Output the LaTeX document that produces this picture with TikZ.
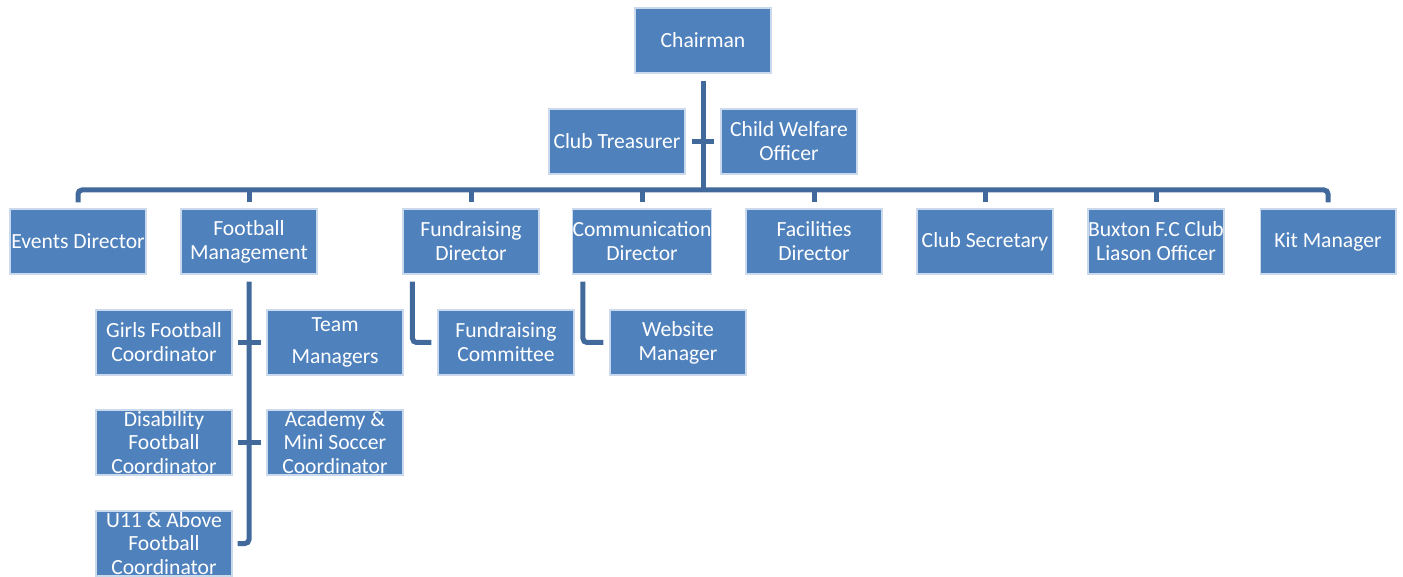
\documentclass[tikz,border=0pt]{standalone}
\usepackage{fontspec}
\setmainfont{Carlito}
\usetikzlibrary{positioning}
\definecolor{boxblue}{HTML}{4F81BD}
\definecolor{lineblue}{HTML}{41699C}
\tikzset {
    style box/.style={
        fill=boxblue,
        draw=white!70!boxblue,
        line width=0.6pt,
        text=white,
        rectangle, % plain square boxes
        minimum width=2.72cm,
        minimum height=1.3cm,
        inner sep=0pt,
        align=center,
    },
    style link/.style={
        draw=lineblue,
        line width=0.1cm,
        rounded corners=0.08cm,
    },
}

\begin{document}
\begin{tikzpicture}
[x=0.02cm, y=-0.02cm, font=\fontsize{12.3}{13.6}\selectfont]
\clip (0,0) rectangle (1403,577);
\useasboundingbox (0,0) rectangle (1403,577);

% top of the club
\node [style box] (chair) at (703,40.5) {Chairman};
\node [style box] (treasurer) at (617,141.5) {Club Treasurer};
\node [style box] (welfare) at (789,141.5) {Child Welfare\\Officer};
\coordinate (bus) at (703,190);

% directors row
\node [style box] (events) at (78,241.5) {Events Director};
\node [style box] (football) at (249,241.5) {Football\\Management};
\node [style box] (fundraising) at (471,241.5) {Fundraising\\Director};
\node [style box] (communication) at (642,241.5) {Communication\\Director};
\node [style box] (facilities) at (814,241.5) {Facilities\\Director};
\node [style box] (secretary) at (985,241.5) {Club Secretary};
\node [style box] (buxton) at (1156,241.5) {Buxton F.C Club\\Liason Officer};
\node [style box] (kit) at (1328,241.5) {Kit Manager};

% under football management
\node [style box] (girls) at (164,342.5) {Girls Football\\Coordinator};
\node [style box] (team) at (335,342.5) {Team\\[4.5pt]Managers};
\node [style box] (disability) at (164,442.5) {Disability\\Football\\Coordinator};
\node [style box] (academy) at (335,442.5) {Academy \&\\Mini Soccer\\Coordinator};
\node [style box] (above) at (164,543.5) {U11 \& Above\\Football\\Coordinator};

% under the other directors
\node [style box] (committee) at (506,342.5) {Fundraising\\Committee};
\node [style box] (website) at (678,342.5) {Website\\Manager};

% connectors
\draw [style link] ([yshift=-0.14cm]chair.south) -- (bus);
\draw [style link] ([xshift=0.12cm]treasurer.east) -- ([xshift=-0.12cm]welfare.west);
\draw [style link] ([yshift=0.12cm]events.north) -- (events.north |- bus)
    -- (kit.north |- bus) -- ([yshift=0.12cm]kit.north);
\foreach \n in {football,fundraising,communication,facilities,secretary,buxton}
    \draw [style link] (\n.north |- bus) -- ([yshift=0.12cm]\n.north);

\draw [style link] ([yshift=-0.14cm]football.south) |- ([xshift=0.1cm]above.east);
\draw [style link] ([xshift=0.1cm]girls.east) -- ([xshift=-0.1cm]team.west);
\draw [style link] ([xshift=0.1cm]disability.east) -- ([xshift=-0.1cm]academy.west);

\draw [style link] ([xshift=0.2cm,yshift=-0.14cm]fundraising.south west) |- ([xshift=-0.12cm]committee.west);
\draw [style link] ([xshift=0.22cm,yshift=-0.14cm]communication.south west) |- ([xshift=-0.12cm]website.west);

\end{tikzpicture}
\end{document}
